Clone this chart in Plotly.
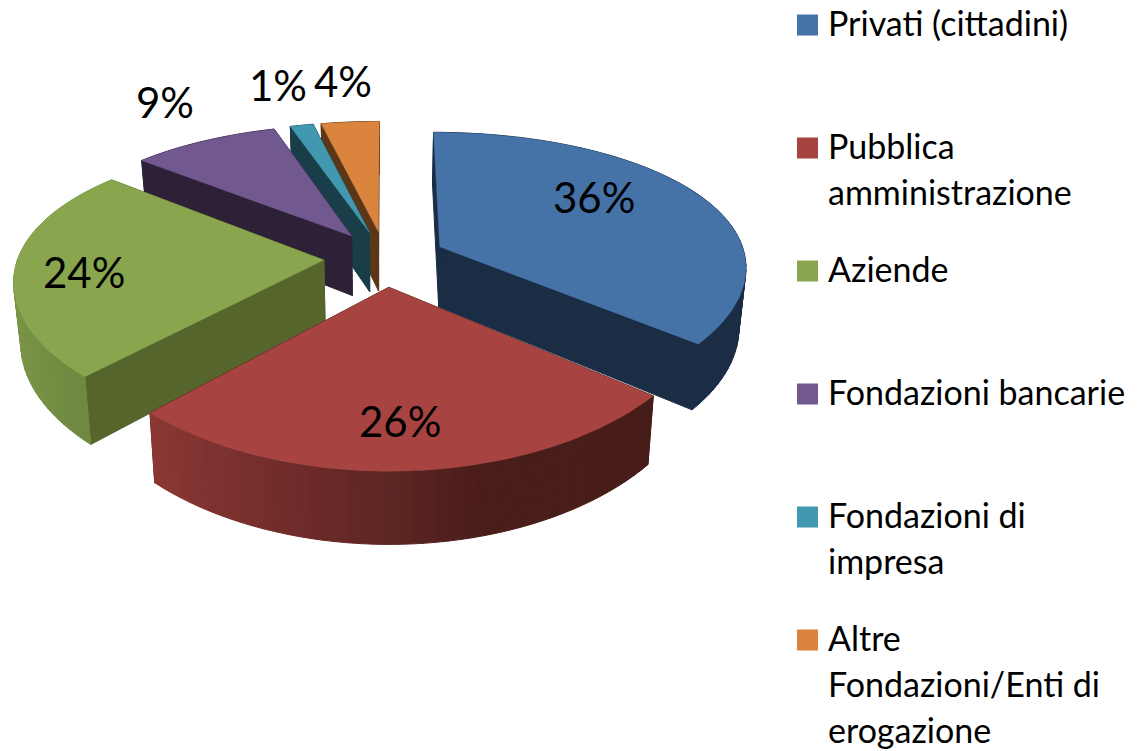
import math
import plotly.graph_objects as go

# ---- data ----
categories = ["Privati (cittadini)", "Pubblica amministrazione", "Aziende",
              "Fondazioni bancarie", "Fondazioni di impresa",
              "Altre Fondazioni/Enti di erogazione"]
values = [36, 26, 24, 9, 1.4, 3.5]
legend_lines = [["Privati (cittadini)"], ["Pubblica", "amministrazione"], ["Aziende"],
                ["Fondazioni bancarie"], ["Fondazioni di", "impresa"],
                ["Altre", "Fondazioni/Enti di", "erogazione"]]

# ---- styles ----
top_colors = ["#4572A7", "#A74442", "#89A54E", "#71588F", "#4198AF", "#DB843D"]
face_colors = ["#1A2D45", "#461C19", "#55652C", "#2D2138", "#1A3D4A", "#5C3717"]
arc_stops = [
    [(0, "#1A2D45"), (360, "#1A2D45")],
    [(129, "#461C19"), (165, "#4A1D1A"), (182, "#5F2624"), (202, "#772F2C"), (224, "#8B3835")],
    [(223, "#6E8840"), (250, "#7A9446"), (310, "#80994A")],
    [(0, "#2D2138"), (360, "#2D2138")],
    [(0, "#1A3D4A"), (360, "#1A3D4A")],
    [(0, "#5C3717"), (360, "#5C3717")],
]
label_pos = [(594, 197), (400, 421), (84, 272), (165, 102), (278, 85), (343, 81)]

# ---- projection of the pie (oblique view with perspective) ----
CX, CY, R, B, KX, KY, H, M, EXPLODE = 385, 258.5, 306, 139, 0.13, 0.18, 62, 0.02, 0.2


def project(x, z, low):
    low_scale = (1 - M) if low else 1
    sx = low_scale / (1 - KX * z)
    sy = low_scale / (1 - KY * z)
    return CX + R * x * sx, CY + (B * z + (H if low else 0)) * sy


def hex_rgb(c):
    return tuple(int(c[i:i + 2], 16) for i in (1, 3, 5))


def shade(stops, a):
    a = min(max(a, stops[0][0]), stops[-1][0])
    for (a0, c0), (a1, c1) in zip(stops, stops[1:]):
        if a <= a1:
            t = (a - a0) / (a1 - a0)
            r = [round(p + (q - p) * t) for p, q in zip(hex_rgb(c0), hex_rgb(c1))]
            return f"rgb({r[0]},{r[1]},{r[2]})"
    return stops[-1][1]


def poly(points, color, width=1.0):
    xs = [p[0] for p in points] + [points[0][0]]
    ys = [p[1] for p in points] + [points[0][1]]
    return go.Scatter(x=xs, y=ys, mode="lines", fill="toself", fillcolor=color,
                      line=dict(color=color, width=width), hoverinfo="skip",
                      showlegend=False)


total = sum(values)
slices = []
start = 0.0
for i, v in enumerate(values):
    end = start + v / total * 360
    slices.append((i, start, end))
    start = end


def mid_z(s):
    return -math.cos(math.radians((s[1] + s[2]) / 2))


fig = go.Figure()
for i, a0, a1 in sorted(slices, key=mid_z):
    mid = math.radians((a0 + a1) / 2)
    ox, oz = EXPLODE * math.sin(mid), -EXPLODE * math.cos(mid)
    n = max(2, int((a1 - a0) / 2))
    angles = [a0 + (a1 - a0) * k / n for k in range(n + 1)]
    rim = [(ox + math.sin(math.radians(a)), oz - math.cos(math.radians(a))) for a in angles]

    quads = []
    for x, z in (rim[0], rim[-1]):
        quads.append(((oz + z) / 2, [project(ox, oz, False), project(x, z, False),
                                     project(x, z, True), project(ox, oz, True)],
                      face_colors[i]))
    for k in range(n):
        (x0, z0), (x1, z1) = rim[k], rim[k + 1]
        quads.append(((z0 + z1) / 2 + 0.02,
                      [project(x0, z0, False), project(x1, z1, False),
                       project(x1, z1, True), project(x0, z0, True)],
                      shade(arc_stops[i], (angles[k] + angles[k + 1]) / 2)))
    for _, pts, col in sorted(quads, key=lambda q: q[0]):
        fig.add_trace(poly(pts, col))
    top = [project(ox, oz, False)] + [project(x, z, False) for x, z in rim]
    fig.add_trace(poly(top, top_colors[i], 0.4))

FONT = "Lato"
for (lx, ly), v in zip(label_pos, values):
    fig.add_annotation(x=lx, y=ly, text=f"{round(v / total * 100)}%", showarrow=False,
                       font=dict(family=FONT, size=42, color="black"),
                       xanchor="center", yanchor="middle")

# legend column
for j, (name, lines) in enumerate(zip(categories, legend_lines)):
    y0 = 25 + 123 * j
    fig.add_trace(go.Scatter(x=[807.5], y=[y0], mode="markers", name=name,
                             marker=dict(symbol="square", size=21, color=top_colors[j],
                                         line=dict(width=0)),
                             hoverinfo="name", showlegend=False))
    for l, text in enumerate(lines):
        fig.add_annotation(x=828, y=y0 + 46 * l - 3, text=text, showarrow=False,
                           font=dict(family=FONT, size=34, color="black"),
                           xanchor="left", yanchor="middle", xshift=-2)

fig.update_layout(
    width=1138, height=751, margin=dict(l=0, r=0, t=0, b=0),
    paper_bgcolor="white", plot_bgcolor="white", showlegend=False,
    xaxis=dict(range=[0, 1138], visible=False, fixedrange=True),
    yaxis=dict(range=[751, 0], visible=False, fixedrange=True),
)
fig.write_html("out.html", config={"displayModeBar": False},
               post_script="document.body.style.margin='0';document.body.style.overflow='hidden';")
